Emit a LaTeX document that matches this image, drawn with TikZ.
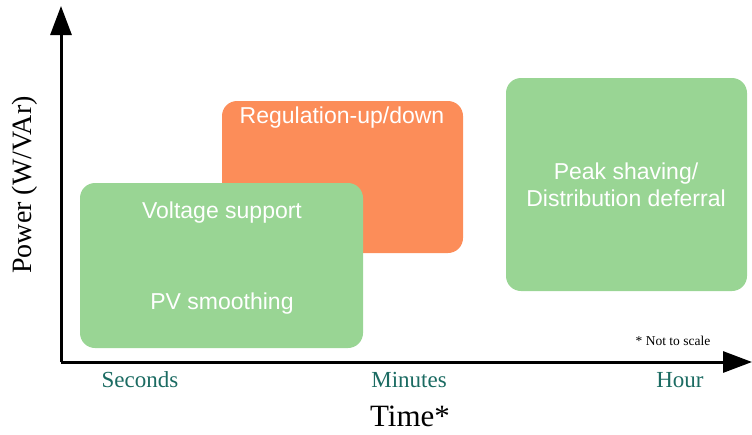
\documentclass[tikz,border=0pt]{standalone}
\usepackage{fontspec}
\setmainfont{Liberation Serif}
\newfontfamily\boxfont{Liberation Sans}
\usetikzlibrary{arrows.meta}
\definecolor{boxgreen}{HTML}{99D594}
\definecolor{boxorange}{HTML}{FC8D59}
\definecolor{ticktext}{HTML}{1B6B62}
\tikzset{
  region/.style={rounded corners=15pt, inner sep=0pt},
  boxtext/.style={font=\boxfont\fontsize{23}{27}\selectfont, text=white, align=center},
  axis/.style={line width=3pt, -{Triangle[length=29pt,width=21pt]}},
  tick/.style={font=\fontsize{23}{27}\selectfont, text=ticktext},
}
\begin{document}
\begin{tikzpicture}[x=1pt,y=-1pt]
\useasboundingbox (0,0) rectangle (752,434);
% boxes
\fill[region, boxorange] (222,101) rectangle (463,253);
\fill[region, boxgreen] (80,183) rectangle (363,348);
\fill[region, boxgreen] (506,78) rectangle (747,291);
\node[boxtext] (reg) at (342,118) {Regulation-up/down};
\node[boxtext] (volt) at (222,213) {Voltage support};
\node[boxtext] (pv) at (222,304) {PV smoothing};
\node[boxtext] (peak) at (626,185) {Peak shaving/\\Distribution deferral};
% axes
\coordinate (origin) at (61,362);
\coordinate (ytip) at (61,6);
\coordinate (xtip) at (752,362);
\draw[axis] (origin) -- (ytip);
\draw[axis] (origin) -- (xtip);
% labels
\node[rotate=90, font=\fontsize{28}{32}\selectfont] (ylab) at (25,185) {Power (W/VAr)};
\node[tick] (sec) at (140,380) {Seconds};
\node[tick] (min) at (409,380) {Minutes};
\node[tick] (hour) at (680,380) {Hour};
\node[font=\fontsize{31}{36}\selectfont, anchor=base, inner sep=0pt] (time) at (410,426) {Time*};
\node[font=\fontsize{13.5}{16}\selectfont] (note) at (673,341) {* Not to scale};
\end{tikzpicture}
\end{document}
